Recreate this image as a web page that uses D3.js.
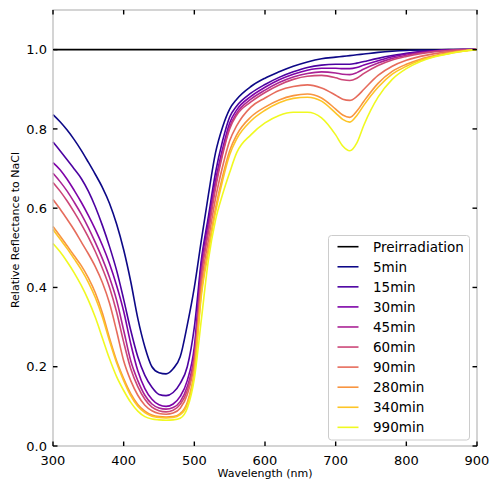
<!DOCTYPE html>
<html>
<head>
<meta charset="utf-8">
<script src="https://cdn.jsdelivr.net/npm/d3@7"></script>
<style>
  html, body { margin: 0; padding: 0; background: #fff; }
  svg { display: block; font-family: "DejaVu Sans", sans-serif; }
</style>
</head>
<body>
<svg id="chart" width="490" height="480"></svg>
<script>
const wavelengths = [300,310,320,330,340,350,360,370,380,390,400,410,420,430,440,450,460,470,480,490,500,510,520,530,540,550,560,580,600,620,640,660,680,700,710,720,730,740,760,780,800,820,840,860,880,900];

const seriesNames = ["Preirradiation","5min","15min","30min","45min","60min","90min","280min","340min","990min"];

const preirradiation = wavelengths.map(() => 1.0);
const min5   = [.836,.818,.797,.773,.746,.716,.685,.652,.612,.56,.495,.415,.322,.25,.2,.185,.182,.195,.225,.305,.40,.52,.635,.74,.805,.85,.875,.907,.928,.944,.958,.969,.977,.981,.983,.985,.987,.989,.993,.996,.998,.999,.999,1,1,1];
const min15  = [.767,.745,.722,.699,.675,.643,.603,.556,.503,.443,.37,.292,.225,.178,.148,.13,.127,.135,.158,.2,.3,.47,.58,.69,.77,.83,.858,.89,.912,.93,.944,.955,.961,.963,.963,.963,.966,.97,.978,.985,.991,.995,.997,.999,1,1];
const min30  = [.715,.697,.673,.645,.615,.582,.546,.506,.46,.405,.34,.258,.19,.145,.118,.104,.1,.106,.125,.165,.25,.46,.565,.67,.75,.815,.848,.882,.905,.924,.938,.948,.953,.953,.952,.952,.955,.961,.972,.982,.989,.994,.997,.999,1,1];
const min45  = [.688,.667,.643,.615,.585,.551,.513,.472,.425,.368,.292,.215,.165,.128,.106,.096,.093,.097,.112,.15,.23,.44,.55,.66,.74,.805,.84,.875,.898,.917,.931,.94,.944,.941,.938,.937,.942,.951,.966,.978,.986,.992,.996,.998,1,1];
const min60  = [.665,.643,.618,.59,.56,.527,.49,.448,.4,.338,.262,.195,.15,.118,.098,.089,.086,.09,.105,.14,.22,.43,.54,.65,.735,.8,.835,.868,.892,.911,.925,.933,.935,.929,.924,.922,.928,.94,.96,.974,.983,.99,.995,.998,.999,1];
const min90  = [.622,.598,.572,.545,.515,.485,.452,.412,.36,.29,.215,.165,.128,.103,.089,.082,.08,.083,.095,.13,.21,.41,.52,.625,.705,.77,.808,.855,.878,.897,.907,.911,.903,.885,.875,.872,.882,.9,.935,.958,.973,.983,.99,.995,.998,1];
const min280 = [.554,.53,.505,.48,.455,.424,.386,.335,.272,.215,.17,.132,.105,.088,.078,.074,.073,.074,.082,.11,.19,.39,.5,.6,.68,.745,.785,.83,.855,.873,.884,.888,.878,.85,.835,.829,.845,.87,.915,.945,.963,.976,.985,.992,.997,1];
const min340 = [.546,.522,.498,.472,.445,.413,.374,.325,.265,.21,.165,.127,.1,.084,.075,.072,.071,.072,.079,.105,.185,.38,.49,.59,.67,.735,.775,.82,.847,.866,.877,.88,.87,.84,.824,.817,.834,.86,.905,.938,.958,.973,.983,.99,.996,1];
const min990 = [.511,.49,.465,.437,.405,.368,.324,.272,.22,.175,.14,.11,.088,.074,.068,.066,.065,.066,.07,.095,.17,.32,.47,.57,.635,.69,.74,.785,.815,.834,.842,.842,.828,.785,.757,.745,.765,.81,.88,.925,.952,.97,.982,.99,.996,1];

const seriesValues = [preirradiation, min5, min15, min30, min45, min60, min90, min280, min340, min990];

const xTicks = [300,400,500,600,700,800,900];
const yTicks = [0.0,0.2,0.4,0.6,0.8,1.0];

const colors = ["#000000"].concat(d3.range(9).map(i => d3.interpolatePlasma(i / 8)));

const svg = d3.select("#chart");
const L = 53, R = 477, T = 10, B = 446;

const x = d3.scaleLinear().domain([300, 900]).range([L, R]);
const y = d3.scaleLinear().domain([0, 1.1]).range([B, T]);

// lines
const line = d3.line()
  .x((d, i) => x(wavelengths[i]))
  .y(d => y(d))
  .curve(d3.curveMonotoneX);

svg.append("g").selectAll("path")
  .data(seriesValues)
  .join("path")
  .attr("d", d => line(d))
  .attr("fill", "none")
  .attr("stroke", (d, i) => colors[i])
  .attr("stroke-width", 1.6)
  .attr("stroke-linejoin", "round");

// spines
svg.append("rect")
  .attr("x", L).attr("y", T)
  .attr("width", R - L).attr("height", B - T)
  .attr("fill", "none")
  .attr("stroke", "#bdbdbd")
  .attr("stroke-width", 1.3);

// ticks (inward, all four sides)
const tl = 4.5;
const tickG = svg.append("g").attr("stroke", "#000").attr("stroke-width", 1.4);
xTicks.forEach(t => {
  tickG.append("line").attr("x1", x(t)).attr("x2", x(t)).attr("y1", B).attr("y2", B - tl);
  tickG.append("line").attr("x1", x(t)).attr("x2", x(t)).attr("y1", T).attr("y2", T + tl);
});
yTicks.forEach(t => {
  tickG.append("line").attr("x1", L).attr("x2", L + tl).attr("y1", y(t)).attr("y2", y(t));
  tickG.append("line").attr("x1", R).attr("x2", R - tl).attr("y1", y(t)).attr("y2", y(t));
});

// tick labels
svg.append("g").selectAll("text")
  .data(xTicks).join("text")
  .attr("x", d => x(d)).attr("y", 465)
  .attr("text-anchor", "middle")
  .attr("font-size", 13)
  .attr("fill", "#000")
  .text(d => d);

svg.append("g").selectAll("text")
  .data(yTicks).join("text")
  .attr("x", 47).attr("y", d => y(d))
  .attr("dy", "0.36em")
  .attr("text-anchor", "end")
  .attr("font-size", 13)
  .attr("fill", "#000")
  .text(d => d3.format(".1f")(d));

// axis labels
svg.append("text")
  .attr("x", (L + R) / 2).attr("y", 477)
  .attr("text-anchor", "middle")
  .attr("font-size", 11)
  .text("Wavelength (nm)");

svg.append("text")
  .attr("transform", `translate(19,${(T + B) / 2 + 2}) rotate(-90)`)
  .attr("text-anchor", "middle")
  .attr("font-size", 11)
  .text("Relative Reflectance to NaCl");

// legend
const lg = svg.append("g");
lg.append("rect")
  .attr("x", 328.5).attr("y", 235.5)
  .attr("width", 141).attr("height", 204.5)
  .attr("rx", 3).attr("ry", 3)
  .attr("fill", "#fff").attr("fill-opacity", 0.85)
  .attr("stroke", "#cccccc").attr("stroke-width", 1);

seriesNames.forEach((name, i) => {
  const cy = 246.7 + i * 20.07;
  lg.append("line")
    .attr("x1", 337.5).attr("x2", 358.5)
    .attr("y1", cy).attr("y2", cy)
    .attr("stroke", colors[i]).attr("stroke-width", 1.6);
  lg.append("text")
    .attr("x", 373).attr("y", cy)
    .attr("dy", "0.36em")
    .attr("font-size", 13.5)
    .attr("fill", "#000")
    .text(name);
});
</script>
</body>
</html>
